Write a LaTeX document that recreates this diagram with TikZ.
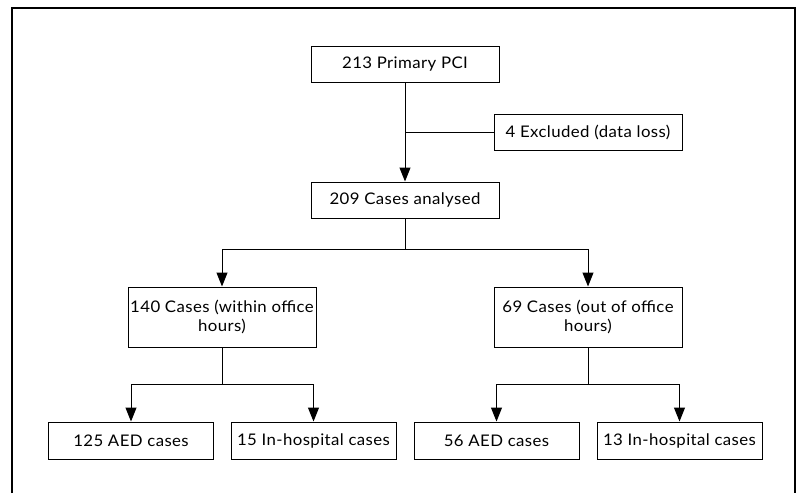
\documentclass[tikz,border=0pt]{standalone}
\usepackage{fontspec}
\setmainfont{Lato}[FakeStretch=1.05, LetterSpace=2.5]
\usetikzlibrary{arrows.meta}

\tikzset{
    flowbox/.style={draw, line width=1pt, fill=white, minimum width=188pt, minimum height=36pt, inner sep=1pt, font=\fontsize{16}{19.5}\selectfont},
    twoline/.style={flowbox, minimum height=60pt, align=center},
    leafbox/.style={flowbox, minimum width=165pt, minimum height=37pt},
    flowline/.style={line width=1pt},
    flowarrow/.style={line width=1pt, -{Triangle[length=14pt, width=11pt]}}
}

\begin{document}
\begin{tikzpicture}[x=1pt, y=-1pt]

    % Page size
    \useasboundingbox (0,0) rectangle (800,493);

    % Rows
    \def\rowTop{64}
    \def\rowMid{200}
    \def\rowSplit{317}
    \def\rowLeaf{440.5}

    % =========================================================================
    % Outer frame (open at the bottom)
    % =========================================================================
    \draw[line width=1.4pt] (12,493) -- (12,8) -- (795,8) -- (795,493);

    % =========================================================================
    % Top: enrolment and exclusion
    % =========================================================================
    \node[flowbox] (pci) at (405, \rowTop) {213 Primary PCI};
    \node[flowbox] (excluded) at (588, 132) {4 Excluded (data loss)};
    \node[flowbox] (analysed) at (405, \rowMid) {209 Cases analysed};

    \draw[flowarrow] (pci) -- (analysed);
    \draw[flowline] (excluded.west) -- (pci.south |- excluded.west);

    % =========================================================================
    % Office hours split
    % =========================================================================
    \node[twoline] (within) at (222, \rowSplit) {140 Cases (within office\\hours)};
    \node[twoline] (outside) at (588, \rowSplit) {69 Cases (out of office\\hours)};

    \coordinate (splitHours) at (405, 249);
    \draw[flowline] (analysed) -- (splitHours);
    \draw[flowarrow] (splitHours) -| (within.north);
    \draw[flowarrow] (splitHours) -| (outside.north);

    % =========================================================================
    % Leaves: AED vs in-hospital
    % =========================================================================
    \node[leafbox] (aedWithin) at (131, \rowLeaf) {125 AED cases};
    \node[leafbox] (hospWithin) at (313.5, \rowLeaf) {15 In-hospital cases};
    \node[leafbox] (aedOutside) at (496.5, \rowLeaf) {56 AED cases};
    \node[leafbox] (hospOutside) at (679.5, \rowLeaf) {13 In-hospital cases};

    \coordinate (splitWithin) at (222, 384);
    \coordinate (splitOutside) at (588, 384);

    \draw[flowline] (within) -- (splitWithin);
    \draw[flowarrow] (splitWithin) -| (aedWithin.north);
    \draw[flowarrow] (splitWithin) -| (hospWithin.north);

    \draw[flowline] (outside) -- (splitOutside);
    \draw[flowarrow] (splitOutside) -| (aedOutside.north);
    \draw[flowarrow] (splitOutside) -| (hospOutside.north);

\end{tikzpicture}
\end{document}
